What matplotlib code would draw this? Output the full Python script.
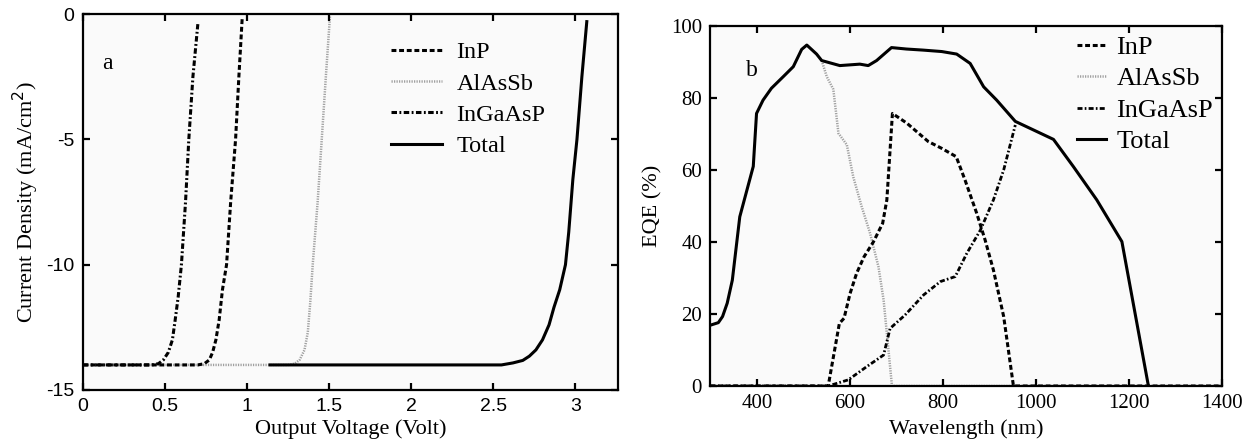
"""
Tandem cell J-V curves (a) and EQE spectra (b) for InP / AlAsSb / InGaAsP subcells.
"""
import matplotlib
matplotlib.use('Agg')
import matplotlib.pyplot as plt


# ---- panel a: J-V curves (Volt, mA/cm^2) ----
v_ingaasp = [0, 0.42, 0.46, 0.49, 0.52, 0.545, 0.56, 0.58, 0.60, 0.625, 0.645, 0.67, 0.70]
j_ingaasp = [-14, -14, -13.95, -13.8, -13.5, -13.0, -12.3, -11.3, -10, -7.5, -5, -2.5, -0.4]

v_inp = [0, 0.70, 0.74, 0.77, 0.79, 0.81, 0.83, 0.85, 0.875, 0.90, 0.93, 0.95, 0.97]
j_inp = [-14, -14, -13.95, -13.8, -13.5, -13.0, -12.2, -11.0, -10, -7.5, -5, -2.5, -0.2]

v_alassb = [0, 1.25, 1.29, 1.32, 1.35, 1.37, 1.385, 1.40, 1.43, 1.455, 1.48, 1.505]
j_alassb = [-14, -14, -13.95, -13.8, -13.4, -12.7, -11.5, -10, -7.5, -5, -2.5, -0.1]

v_total = [1.14, 2.55, 2.62, 2.68, 2.72, 2.76, 2.80, 2.84, 2.87, 2.905, 2.94, 2.96,
           2.985, 3.01, 3.04, 3.07]
j_total = [-14, -14, -13.92, -13.82, -13.65, -13.4, -13.0, -12.4, -11.7, -11.0, -10, -8.7,
           -6.6, -5, -2.5, -0.3]

# ---- panel b: EQE (%) vs wavelength (nm) ----
wl_total = [300, 317, 326, 336, 347, 363, 392, 399, 413, 431, 457, 478, 496, 507,
            528, 539, 578, 621, 639, 657, 689, 721, 757, 797, 829, 858, 887, 915,
            955, 1037, 1080, 1130, 1184, 1241]
eqe_total = [16.9, 17.6, 19.3, 23, 29.4, 47, 61, 75.7, 79.4, 82.7, 86, 88.7, 93.5, 94.7,
             92.2, 90.4, 89, 89.4, 89, 90.4, 94, 93.6, 93.3, 92.9, 92.2, 89.6, 83.1, 79.4,
             73.5, 68.5, 60.9, 51.7, 40.1, 0]

wl_alassb = [539, 550, 564, 575, 593, 607, 625, 643, 661, 672, 679, 690, 1400]
eqe_alassb = [90.4, 85.9, 82.4, 70.2, 67, 58, 49.8, 42.4, 33.1, 23.9, 14.6, 0, 0]

wl_inp = [300, 553, 577, 587, 600, 614, 630, 650, 670, 679, 691, 722, 768, 797,
          828, 847, 872, 890, 908, 930, 951, 1400]
eqe_inp = [0, 0, 17.4, 18.8, 25.7, 31.3, 35.9, 40, 45.2, 51.7, 75.7, 73, 67.9, 66,
           63.7, 57.2, 48, 40.6, 32.2, 19.3, 0, 0]

wl_ingaasp = [300, 553, 596, 636, 672, 686, 718, 758, 794, 826, 851, 880, 908, 930, 955]
eqe_ingaasp = [0, 0, 1.7, 5.4, 8.6, 16, 19.7, 25.3, 29, 30.4, 36.9, 43.3, 51.7, 60, 72.5]

labels = ['InP', 'AlAsSb', 'InGaAsP', 'Total']
volt_ticks = [0, 0.5, 1, 1.5, 2, 2.5, 3]
volt_labels = ['0', '0.5', '1', '1.5', '2', '2.5', '3']
jd_ticks = [0, -5, -10, -15]
jd_labels = ['0', '-5', '-10', '-15']

SERIF = 'Liberation Serif'
SANS = 'Liberation Sans'
BG = '#fafafa'
GRAY = '#a0a0a0'

DASH = (0, (1.6, 0.9))
DASHDOT = (0, (1.8, 0.8, 0.6, 0.8))
DOT = (0, (0.5, 0.5))


def style_axes(ax, tick_font, tick_size):
    ax.set_facecolor(BG)
    for s in ax.spines.values():
        s.set_linewidth(1.6)
    ax.tick_params(direction='in', length=5, width=1.6, top=True, right=True,
                   labelsize=tick_size, pad=6, labelfontfamily=tick_font)


fig = plt.figure(figsize=(12.53, 4.48), dpi=100)
ax1 = fig.add_axes([0.0662, 0.1295, 0.427, 0.839])
ax2 = fig.add_axes([0.567, 0.1384, 0.4086, 0.8036])

# panel a
l_total, = ax1.plot(v_total, j_total, color='black', lw=2.2, zorder=2)
l_alassb, = ax1.plot(v_alassb, j_alassb, color=GRAY, lw=1.8, ls=DOT, zorder=1)
l_inp, = ax1.plot(v_inp, j_inp, color='black', lw=2.2, ls=DASH, zorder=3)
l_ingaasp, = ax1.plot(v_ingaasp, j_ingaasp, color='black', lw=2.2, ls=DASHDOT, zorder=4)

ax1.set_xlim(0, 3.26)
ax1.set_ylim(-15, 0)
style_axes(ax1, SANS, 14)
ax1.set_xticks(volt_ticks)
ax1.set_xticklabels(volt_labels, fontfamily=SANS, fontsize=14)
ax1.set_yticks(jd_ticks)
ax1.set_yticklabels(jd_labels, fontfamily=SANS, fontsize=14)
ax1.set_xlabel('Output Voltage (Volt)', fontfamily=SERIF, fontsize=16, labelpad=3)
ax1.set_ylabel('Current Density (mA/cm$^2$)', fontfamily=SERIF, fontsize=16, labelpad=4)
ax1.text(0.035, 0.855, 'a', transform=ax1.transAxes, fontfamily=SERIF, fontsize=17)
ax1.legend([l_inp, l_alassb, l_ingaasp, l_total], labels, loc='upper left',
           bbox_to_anchor=(0.553, 0.96), frameon=False, borderpad=0,
           prop={'family': SERIF, 'size': 17.5}, handlelength=2.1,
           handletextpad=0.6, labelspacing=0.38)

# panel b
m_total, = ax2.plot(wl_total, eqe_total, color='black', lw=2.2, zorder=2)
m_alassb, = ax2.plot(wl_alassb, eqe_alassb, color=GRAY, lw=1.8, ls=DOT, zorder=1)
m_inp, = ax2.plot(wl_inp, eqe_inp, color='black', lw=2.2, ls=DASH, zorder=3)
m_ingaasp, = ax2.plot(wl_ingaasp, eqe_ingaasp, color='black', lw=2.0, ls=DASHDOT, zorder=4)

ax2.set_xlim(300, 1400)
ax2.set_ylim(0, 100)
ax2.set_xticks([400, 600, 800, 1000, 1200, 1400])
ax2.set_yticks([0, 20, 40, 60, 80, 100])
style_axes(ax2, SERIF, 15)
ax2.set_xlabel('Wavelength (nm)', fontfamily=SERIF, fontsize=16, labelpad=4)
ax2.set_ylabel('EQE (%)', fontfamily=SERIF, fontsize=16, labelpad=6)
ax2.text(0.07, 0.86, 'b', transform=ax2.transAxes, fontfamily=SERIF, fontsize=17)
ax2.legend([m_inp, m_alassb, m_ingaasp, m_total], labels, loc='upper left',
           bbox_to_anchor=(0.69, 1.01), frameon=False, borderpad=0,
           prop={'family': SERIF, 'size': 19}, handlelength=1.1,
           handletextpad=0.4, labelspacing=0.3)

plt.savefig('out.png', dpi=100)
